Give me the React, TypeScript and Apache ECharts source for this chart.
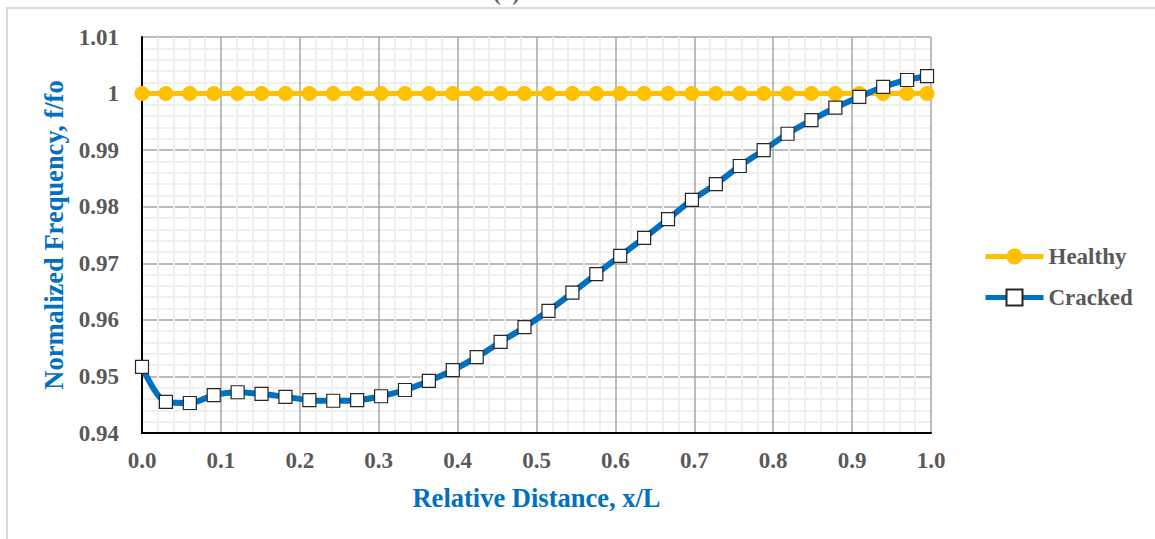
import React, { useEffect, useRef } from "react";
import * as echarts from "echarts";

const xValues = [
  0, 0.0303, 0.0606, 0.0909, 0.1212, 0.1515, 0.1818, 0.2121, 0.2424, 0.2727,
  0.303, 0.3333, 0.3636, 0.3939, 0.4242, 0.4545, 0.4848, 0.5152, 0.5455, 0.5758,
  0.6061, 0.6364, 0.6667, 0.697, 0.7273, 0.7576, 0.7879, 0.8182, 0.8485, 0.8788,
  0.9091, 0.9394, 0.9697, 0.995,
];

const healthy = [
  1, 1, 1, 1, 1, 1, 1, 1, 1, 1, 1, 1, 1, 1, 1, 1, 1, 1, 1, 1, 1, 1, 1, 1, 1, 1, 1,
  1, 1, 1, 1, 1, 1, 1,
];

const cracked = [
  0.9517, 0.9455, 0.9453, 0.9467, 0.9472, 0.9469, 0.9464, 0.9458, 0.9457, 0.9458,
  0.9465, 0.9476, 0.9492, 0.9511, 0.9534, 0.9561, 0.9587, 0.9616, 0.9648, 0.9681,
  0.9713, 0.9745, 0.9778, 0.9812, 0.984, 0.9872, 0.99, 0.9929, 0.9953, 0.9975,
  0.9994, 1.0012, 1.0024, 1.0031,
];

const seriesNames = ["Healthy", "Cracked"];
const xTicks = [0, 0.1, 0.2, 0.3, 0.4, 0.5, 0.6, 0.7, 0.8, 0.9, 1.0];
const yTicks = [0.94, 0.95, 0.96, 0.97, 0.98, 0.99, 1, 1.01];

const FONT = "'Liberation Serif', 'Times New Roman', serif";
const GRAY = "#595959";
const BLUE = "#0070C0";
const GOLD = "#FFC000";

export default function App() {
  const ref = useRef<HTMLDivElement>(null);
  useEffect(() => {
    if (!ref.current) return;
    const chart = echarts.init(ref.current, null, { renderer: "svg" });
    const pair = (ys: number[]) => xValues.map((x, i) => [x, ys[i]]);
    chart.setOption({
      animation: false,
      backgroundColor: "#ffffff",
      textStyle: { fontFamily: FONT },
      graphic: [
        {
          type: "polyline",
          shape: { points: [[7, 539], [7, 8], [1155, 8]] },
          style: { stroke: "#d9d9d9", lineWidth: 2, fill: "none" },
          silent: true,
        },
        {
          type: "text",
          left: 493,
          top: -19,
          style: {
            text: "(a) First Mode",
            font: `bold 23px ${FONT}`,
            fill: GRAY,
          },
          silent: true,
        },
      ],
      grid: { left: 142, top: 37, right: 224, bottom: 106, containLabel: false },
      legend: {
        orient: "vertical",
        left: 978,
        top: 240,
        itemWidth: 58,
        itemHeight: 20,
        itemGap: 18,
        data: [
          { name: seriesNames[0], lineStyle: { width: 5 } },
          { name: seriesNames[1], lineStyle: { width: 5 } },
        ],
        textStyle: { fontFamily: FONT, fontWeight: "bold", fontSize: 23, color: GRAY },
      },
      xAxis: {
        type: "value",
        min: 0,
        max: 1,
        interval: 0.1,
        name: "Relative Distance, x/L",
        nameLocation: "middle",
        nameGap: 51,
        nameTextStyle: { fontFamily: FONT, fontWeight: "bold", fontSize: 26.5, color: BLUE },
        axisLine: { show: true, onZero: false, lineStyle: { color: "#000", width: 2 } },
        axisTick: { show: false },
        axisLabel: {
          fontFamily: FONT,
          fontWeight: "bold",
          fontSize: 23,
          color: GRAY,
          margin: 16,
          formatter: (v: number) => {
            const t = xTicks.find((k) => Math.abs(k - v) < 1e-6);
            return t === undefined ? "" : t.toFixed(1);
          },
        },
        splitLine: { show: true, lineStyle: { color: "#a6a6a6", width: 1.5 } },
        minorTick: { show: false, splitNumber: 5 },
        minorSplitLine: { show: true, lineStyle: { color: "#efefef", width: 2 } },
      },
      yAxis: {
        type: "value",
        min: 0.94,
        max: 1.01,
        interval: 0.01,
        name: "Normalized Frequency, f/fo",
        nameLocation: "middle",
        nameGap: 71,
        nameTextStyle: { fontFamily: FONT, fontWeight: "bold", fontSize: 26.5, color: BLUE },
        axisLine: { show: true, onZero: false, lineStyle: { color: "#000", width: 2 } },
        axisTick: { show: false },
        axisLabel: {
          fontFamily: FONT,
          fontWeight: "bold",
          fontSize: 23,
          color: GRAY,
          margin: 23,
          formatter: (v: number) => {
            const t = yTicks.find((k) => Math.abs(k - v) < 1e-6);
            return t === undefined ? "" : String(t);
          },
        },
        splitLine: { show: true, lineStyle: { color: "#a6a6a6", width: 1.5 } },
        minorTick: { show: false, splitNumber: 5 },
        minorSplitLine: { show: true, lineStyle: { color: "#efefef", width: 2 } },
      },
      series: [
        {
          name: seriesNames[0],
          type: "line",
          data: pair(healthy),
          symbol: "circle",
          symbolSize: 15,
          itemStyle: { color: GOLD },
          lineStyle: { color: GOLD, width: 5 },
          z: 2,
        },
        {
          name: seriesNames[1],
          type: "line",
          data: pair(cracked),
          smooth: 0.3,
          symbol: "rect",
          symbolSize: 13,
          itemStyle: { color: "#ffffff", borderColor: "#262626", borderWidth: 1.2 },
          lineStyle: { color: BLUE, width: 6 },
          z: 3,
        },
      ],
    });
    return () => chart.dispose();
  }, []);
  return <div ref={ref} style={{ width: 1155, height: 539, position: "absolute", left: 0, top: 0 }} />;
}
